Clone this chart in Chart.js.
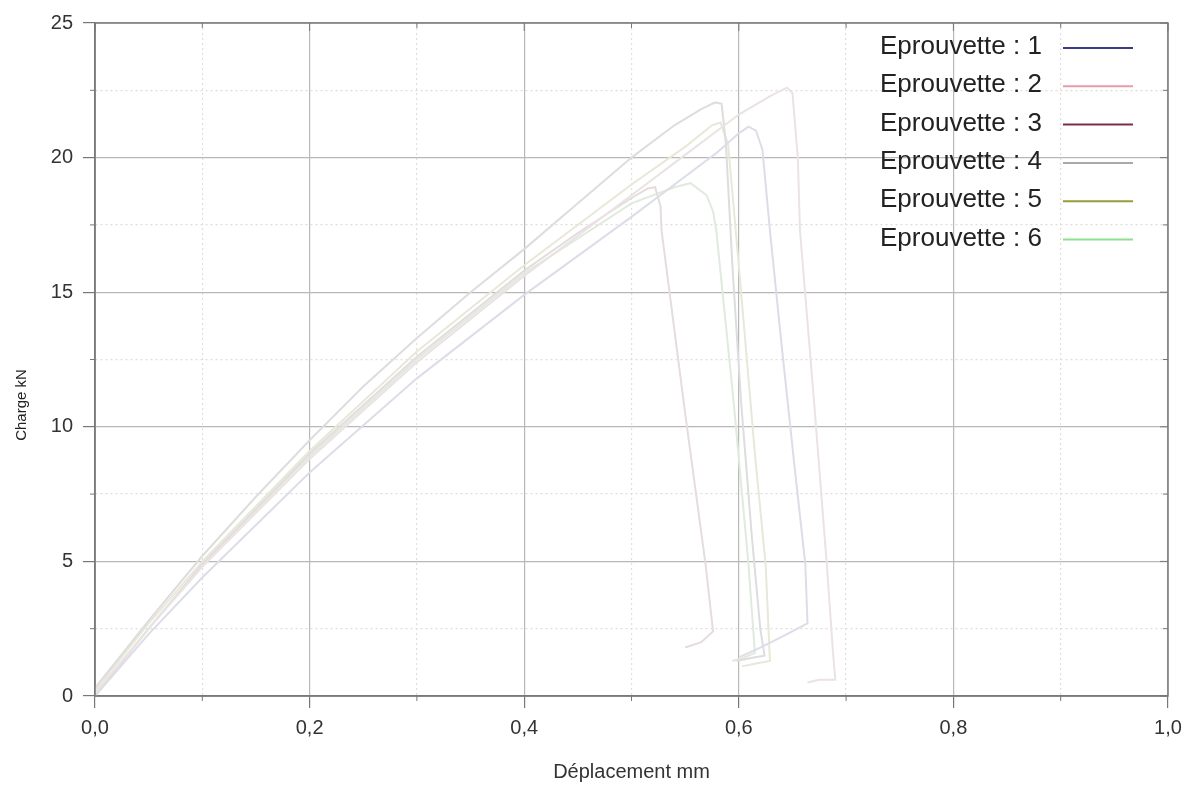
<!DOCTYPE html>
<html>
<head>
<meta charset="utf-8">
<script src="https://cdn.jsdelivr.net/npm/chart.js@4.4.1/dist/chart.umd.min.js"></script>
<style>
  html, body { margin: 0; padding: 0; background: #fff; }
  #wrap { width: 1195px; height: 789px; }
</style>
</head>
<body>
<div id="wrap"><canvas id="canvas" width="1195" height="789"></canvas></div>
<script>
// series labels
var labels = ["Eprouvette : 1", "Eprouvette : 2", "Eprouvette : 3", "Eprouvette : 4", "Eprouvette : 5", "Eprouvette : 6"];

// deplacement (mm) / charge (kN)
var e1X = [0, 0.05, 0.1, 0.2, 0.3, 0.4, 0.5, 0.55, 0.58, 0.6, 0.609, 0.616, 0.622, 0.629, 0.64, 0.652, 0.662, 0.664, 0.64, 0.62, 0.601];
var e1Y = [0, 2.3, 4.4, 8.3, 11.8, 14.9, 17.8, 19.3, 20.2, 20.9, 21.15, 21.0, 20.3, 17.3, 13.0, 8.5, 4.9, 2.7, 2.2, 1.8, 1.45];

var e2X = [0, 0.05, 0.1, 0.2, 0.3, 0.4, 0.5, 0.55, 0.6, 0.63, 0.645, 0.65, 0.655, 0.657, 0.67, 0.682, 0.688, 0.69, 0.675, 0.664];
var e2Y = [0.1, 2.5, 4.8, 8.8, 12.4, 15.6, 18.6, 20.1, 21.6, 22.3, 22.6, 22.4, 20.0, 17.3, 11.0, 4.9, 1.5, 0.6, 0.6, 0.5];

var e3X = [0, 0.05, 0.1, 0.2, 0.3, 0.4, 0.45, 0.5, 0.515, 0.522, 0.527, 0.528, 0.55, 0.569, 0.576, 0.565, 0.55];
var e3Y = [0, 2.5, 4.9, 9.0, 12.6, 15.8, 17.2, 18.5, 18.85, 18.9, 18.2, 17.3, 10.5, 4.9, 2.4, 2.0, 1.8];

var e4X = [0, 0.02, 0.05, 0.1, 0.15, 0.2, 0.25, 0.3, 0.35, 0.4, 0.45, 0.5, 0.54, 0.565, 0.578, 0.584, 0.588, 0.594, 0.602, 0.612, 0.62, 0.624, 0.61, 0.598];
var e4Y = [0.3, 1.3, 2.8, 5.2, 7.4, 9.5, 11.5, 13.3, 15.0, 16.6, 18.3, 20.0, 21.2, 21.8, 22.05, 22.0, 20.5, 16.0, 11.0, 6.0, 2.5, 1.5, 1.4, 1.3];

var e5X = [0, 0.05, 0.1, 0.2, 0.3, 0.4, 0.5, 0.55, 0.575, 0.583, 0.59, 0.6, 0.615, 0.625, 0.629, 0.615, 0.603];
var e5Y = [0.2, 2.7, 5.0, 9.1, 12.8, 16.0, 19.0, 20.4, 21.2, 21.3, 20.5, 16.0, 9.0, 4.9, 1.3, 1.2, 1.1];

var e6X = [0, 0.05, 0.1, 0.2, 0.3, 0.4, 0.5, 0.54, 0.555, 0.57, 0.576, 0.579, 0.595, 0.609, 0.615, 0.603, 0.594];
var e6Y = [0, 2.5, 4.9, 8.9, 12.5, 15.7, 18.3, 18.9, 19.05, 18.6, 18.0, 17.3, 11.0, 4.9, 1.6, 1.4, 1.3];

var allX = [e1X, e2X, e3X, e4X, e5X, e6X];
var allY = [e1Y, e2Y, e3Y, e4Y, e5Y, e6Y];

// faint curve colours in the plot, stronger ones for the legend keys
var curveColor = ["#dddde9", "#ebe2e3", "#e4dcde", "#dddddd", "#e8e8d8", "#e0eadf"];
var keyColor = ["#3a3a8c", "#e89aa6", "#7a2f45", "#a9a9a9", "#9b9b3c", "#8fe08f"];

var datasets = [];
for (var i = 0; i < labels.length; i++) {
    var pts = [];
    for (var j = 0; j < allX[i].length; j++) {
        pts.push({ x: allX[i][j], y: allY[i][j] });
    }
    datasets.push({
        label: labels[i],
        data: pts,
        showLine: true,
        borderColor: curveColor[i],
        borderWidth: 2,
        pointRadius: 0,
        tension: 0,
        fill: false
    });
}

function isMajorX(v) { return Math.round(v * 10) % 2 === 0; }
function isMajorY(v) { return Math.round(v * 2) % 2 === 0; }

var framePlugin = {
    id: "frame",
    afterDraw: function (chart) {
        var ctx = chart.ctx;
        var a = chart.chartArea;
        var xs = chart.scales.x, ys = chart.scales.y;
        ctx.save();
        // box around plot
        ctx.strokeStyle = "#7a7a7a";
        ctx.lineWidth = 1.5;
        ctx.strokeRect(a.left, a.top, a.right - a.left, a.bottom - a.top);
        // ticks: minor outside short, inner ticks top/right
        ctx.strokeStyle = "#777";
        ctx.lineWidth = 1;
        for (var v = 0; v <= 10; v++) {
            var px = xs.getPixelForValue(v / 10);
            var major = v % 2 === 0;
            ctx.beginPath();
            if (!major) { ctx.moveTo(px, a.bottom); ctx.lineTo(px, a.bottom + 5); }
            ctx.moveTo(px, a.top); ctx.lineTo(px, a.top + (major ? 8 : 5));
            ctx.stroke();
        }
        for (var k = 0; k <= 10; k++) {
            var py = ys.getPixelForValue(k * 2.5);
            var maj = k % 2 === 0;
            ctx.beginPath();
            if (!maj) { ctx.moveTo(a.left, py); ctx.lineTo(a.left - 5, py); }
            ctx.moveTo(a.right, py); ctx.lineTo(a.right - (maj ? 8 : 5), py);
            ctx.stroke();
        }
        // y title
        ctx.fillStyle = "#222";
        ctx.font = "15px 'Liberation Sans', Arial, sans-serif";
        ctx.textAlign = "center";
        ctx.textBaseline = "middle";
        ctx.translate(22, 405);
        ctx.rotate(-Math.PI / 2);
        ctx.fillText("Charge kN", 0, 0);
        ctx.restore();

        // legend: text then line
        ctx.save();
        ctx.font = "26px 'Liberation Sans', Arial, sans-serif";
        ctx.textAlign = "left";
        ctx.textBaseline = "middle";
        for (var n = 0; n < chart.data.datasets.length; n++) {
            var y = 47 + n * 38.3;
            ctx.fillStyle = "#222";
            ctx.fillText(chart.data.datasets[n].label, 880, y);
            ctx.strokeStyle = keyColor[n];
            ctx.lineWidth = 2;
            ctx.beginPath();
            ctx.moveTo(1063, y + 1);
            ctx.lineTo(1133, y + 1);
            ctx.stroke();
        }
        ctx.restore();
    }
};

window.onload = function () {
    var ctx = document.getElementById("canvas").getContext("2d");
    window.myChart = new Chart(ctx, {
        type: "scatter",
        data: { datasets: datasets },
        options: {
            responsive: false,
            animation: false,
            layout: { padding: { left: 0, top: 23, right: 27, bottom: 0 } },
            plugins: {
                legend: { display: false },
                tooltip: { enabled: false }
            },
            scales: {
                x: {
                    type: "linear",
                    min: 0,
                    max: 1,
                    afterFit: function (s) { s.height = 93; },
                    ticks: {
                        stepSize: 0.1,
                        autoSkip: false,
                        maxRotation: 0,
                        padding: 8,
                        color: "#333",
                        font: { family: "'Liberation Sans', Arial, sans-serif", size: 20 },
                        callback: function (v) {
                            return isMajorX(v) ? (Math.round(v * 10) / 10).toFixed(1).replace(".", ",") : "";
                        }
                    },
                    grid: {
                        color: function (c) { return c.tick && isMajorX(c.tick.value) ? "#b8b8b8" : "#dedede"; },
                        tickColor: function (c) { return c.tick && isMajorX(c.tick.value) ? "#777" : "rgba(0,0,0,0)"; },
                        tickLength: 12,
                        lineWidth: 1.2
                    },
                    border: {
                        color: "#7a7a7a",
                        width: 1.5,
                        dash: function (c) { return c.tick && !isMajorX(c.tick.value) ? [2, 3] : []; }
                    },
                    title: {
                        display: true,
                        text: "Déplacement mm",
                        color: "#333",
                        font: { family: "'Liberation Sans', Arial, sans-serif", size: 20 },
                        padding: { top: 0, bottom: 5 }
                    }
                },
                y: {
                    type: "linear",
                    min: 0,
                    max: 25,
                    afterFit: function (s) { s.width = 95; },
                    ticks: {
                        stepSize: 2.5,
                        autoSkip: false,
                        padding: 10,
                        color: "#333",
                        font: { family: "'Liberation Sans', Arial, sans-serif", size: 20 },
                        callback: function (v) { return isMajorY(v) ? String(v) : ""; }
                    },
                    grid: {
                        color: function (c) { return c.tick && isMajorY(c.tick.value) ? "#b8b8b8" : "#dedede"; },
                        tickColor: function (c) { return c.tick && isMajorY(c.tick.value) ? "#777" : "rgba(0,0,0,0)"; },
                        tickLength: 12,
                        lineWidth: 1.2
                    },
                    border: {
                        color: "#7a7a7a",
                        width: 1.5,
                        dash: function (c) { return c.tick && !isMajorY(c.tick.value) ? [2, 3] : []; }
                    }
                }
            }
        },
        plugins: [framePlugin]
    });
};
</script>
</body>
</html>
